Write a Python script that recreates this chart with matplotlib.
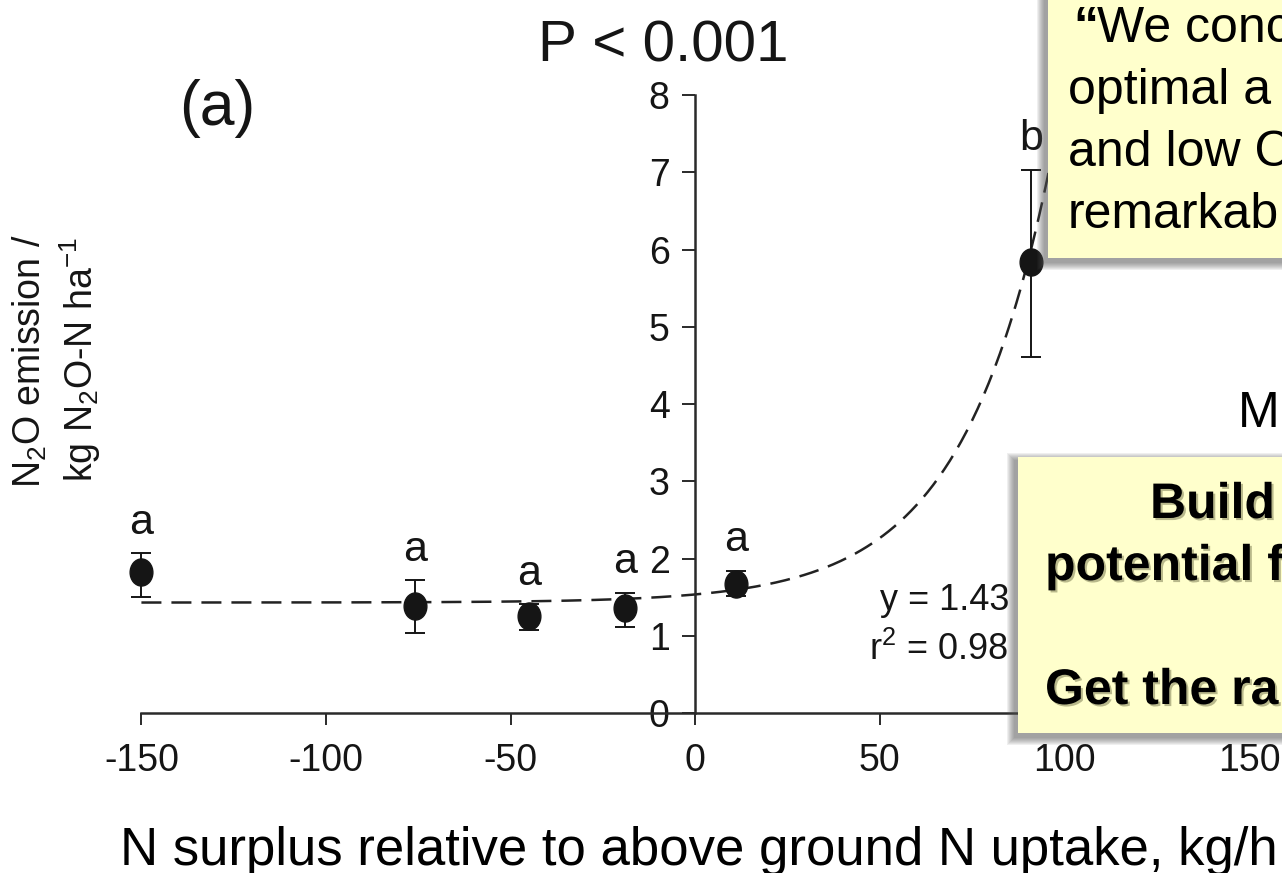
import matplotlib
matplotlib.use('Agg')
import matplotlib.pyplot as plt
import numpy as np
from matplotlib.patches import Rectangle
from matplotlib.path import Path
from matplotlib.transforms import Affine2D
import matplotlib.patheffects as pe

plt.rcParams['font.family'] = ['Liberation Sans', 'DejaVu Sans']
plt.rcParams['mathtext.fontset'] = 'custom'
plt.rcParams['mathtext.rm'] = 'Liberation Sans'
plt.rcParams['mathtext.it'] = 'Liberation Sans:italic'
plt.rcParams['mathtext.bf'] = 'Liberation Sans:bold'

# ---------------- data ----------------
n_surplus = [-150, -76, -45, -19, 11, 91]
n2o_emission = [1.83, 1.38, 1.25, 1.36, 1.67, 5.84]
err_upper = [2.07, 1.72, 1.41, 1.56, 1.84, 7.03]
err_lower = [1.50, 1.04, 1.08, 1.11, 1.51, 4.61]
group_letters = ['a', 'a', 'a', 'a', 'a', 'b']

# exponential fit y = a + b*exp(c*x) (dashed curve)
fit_a, fit_b, fit_c = 1.43, 0.105, 0.0415
fit_x_range = [-150, 100]

x_ticks = [-150, -100, -50, 0, 50, 100, 150]
y_ticks = [0, 1, 2, 3, 4, 5, 6, 7, 8]

title_text = 'P < 0.001'
panel_text = '(a)'
xlabel_text = 'N surplus relative to above ground N uptake, kg/h'
ylabel_line1 = r'N$_2$O emission /'
ylabel_line2 = r'kg N$_2$O-N ha$^{-1}$'
eq_line1 = 'y = 1.43'
eq_line2 = r'r$^2$ = 0.98'

box1_quote = '\u201c'
box1_lines = ['We conc', 'optimal a', 'and low C', 'remarkab']
side_text = 'M'
box2_lines = ['Build', 'potential f', '', 'Get the ra']

# ---------------- figure ----------------
W, H = 1282, 873
fig = plt.figure(figsize=(W / 100, H / 100), dpi=100)
fig.patch.set_facecolor('white')


def fx(px):
    return px / W


def fy(py):
    return 1 - py / H


ax = fig.add_axes([0, 0, 1, 1])
ax.patch.set_alpha(0)
ax.set_xlim(-188.3, 158.9)
ax.set_ylim(-2.071, 9.230)

axis_col = '#2a2a2a'
ink = '#151515'
for s in ['top', 'right']:
    ax.spines[s].set_visible(False)
ax.spines['left'].set_position(('data', 0))
ax.spines['bottom'].set_position(('data', 0))
ax.spines['left'].set_bounds(0, 8)
ax.spines['bottom'].set_bounds(-150, 160)
for s in ['left', 'bottom']:
    ax.spines[s].set_linewidth(1.8)
    ax.spines[s].set_color(axis_col)

ax.set_xticks(x_ticks)
ax.set_xticklabels([str(t) for t in x_ticks])
ax.set_yticks(y_ticks)
ax.set_yticklabels([str(t) for t in y_ticks])
ax.tick_params(axis='x', direction='out', length=8.6, width=1.4, pad=13,
               labelsize=27, colors=axis_col, labelcolor=ink)
ax.tick_params(axis='y', direction='out', length=9.4, width=1.4, pad=9,
               labelsize=27, colors=axis_col, labelcolor=ink)

# fitted curve
xs = np.linspace(fit_x_range[0], fit_x_range[1], 500)
ys = fit_a + fit_b * np.exp(fit_c * xs)
ax.plot(xs, ys, color='#222222', lw=1.8, ls=(0, (8, 4)), zorder=2)

# slightly tall elliptical marker, as in the source figure
ellipse = Path.unit_circle().transformed(Affine2D().scale(0.84, 1.0))

# points with error bars
y_arr = np.array(n2o_emission)
yerr = [y_arr - np.array(err_lower), np.array(err_upper) - y_arr]
ax.errorbar(n_surplus, n2o_emission, yerr=yerr, fmt='none',
            ecolor=ink, elinewidth=1.4, capsize=7.5, capthick=1.4, zorder=3)
ax.plot(n_surplus, n2o_emission, ls='none', marker=ellipse, ms=19.5,
        color=ink, zorder=4)

for x, top, g in zip(n_surplus, err_upper, group_letters):
    ax.annotate(g, (x, top), xytext=(0, 22), textcoords='offset points',
                ha='center', va='center', fontsize=31, color=ink)

# equation
ax.text(50, 1.333, eq_line1, fontsize=26, color=ink, ha='left', va='baseline')
ax.text(47, 0.686, eq_line2, fontsize=26, color=ink, ha='left', va='baseline')

# titles / labels
fig.text(fx(663), fy(62), title_text, fontsize=42, color=ink,
         ha='center', va='baseline')
fig.text(fx(217), fy(108), panel_text, fontsize=45, color=ink,
         ha='center', va='center')
fig.text(fx(120), fy(865), xlabel_text, fontsize=38, color='black',
         ha='left', va='baseline')
fig.text(fx(30), fy(361), ylabel_line1, fontsize=27, color=ink,
         rotation=90, ha='center', va='center')
fig.text(fx(80), fy(359), ylabel_line2, fontsize=27, color=ink,
         rotation=90, ha='center', va='center')


# ---------------- slide call-out boxes ----------------
def callout(x0, y0, x1, y1):
    # soft shadow
    for k in range(8, 0, -1):
        fig.add_artist(Rectangle((fx(x0 - 3 - k), fy(y1 + 4 + k)),
                                 (x1 - x0 + 2 * k) / W, (y1 - y0 + 2 * k) / H,
                                 transform=fig.transFigure, facecolor='#555555',
                                 edgecolor='none', alpha=0.09, zorder=4))
    fig.add_artist(Rectangle((fx(x0), fy(y1)), (x1 - x0) / W, (y1 - y0) / H,
                             transform=fig.transFigure, facecolor='#FFFFCC',
                             edgecolor='none', zorder=5))


callout(1048, -20, 1300, 258)
callout(1018, 457, 1300, 733)

fig.text(fx(1073), fy(42), box1_quote, fontsize=36, fontweight='bold',
         color='black', ha='left', va='baseline', zorder=6)
fig.text(fx(1097), fy(42), box1_lines[0], fontsize=36, color='black',
         ha='left', va='baseline', zorder=6)
for i, line in enumerate(box1_lines[1:], start=1):
    fig.text(fx(1068), fy(42 + 62 * i), line, fontsize=36, color='black',
             ha='left', va='baseline', zorder=6)

fig.text(fx(1238), fy(427), side_text, fontsize=36, color='black',
         ha='left', va='baseline', zorder=3)

shadow = [pe.SimplePatchShadow(offset=(1.5, -1.5), shadow_rgbFace='#8a8a60',
                               alpha=0.6), pe.Normal()]
box2_x = [1150, 1045, 1045, 1045]
for i, (line, x) in enumerate(zip(box2_lines, box2_x)):
    if line:
        fig.text(fx(x), fy(518 + 62 * i), line, fontsize=36,
                 fontweight='bold', color='black', ha='left', va='baseline',
                 zorder=6, path_effects=shadow)

fig.savefig('out.png', dpi=100)
